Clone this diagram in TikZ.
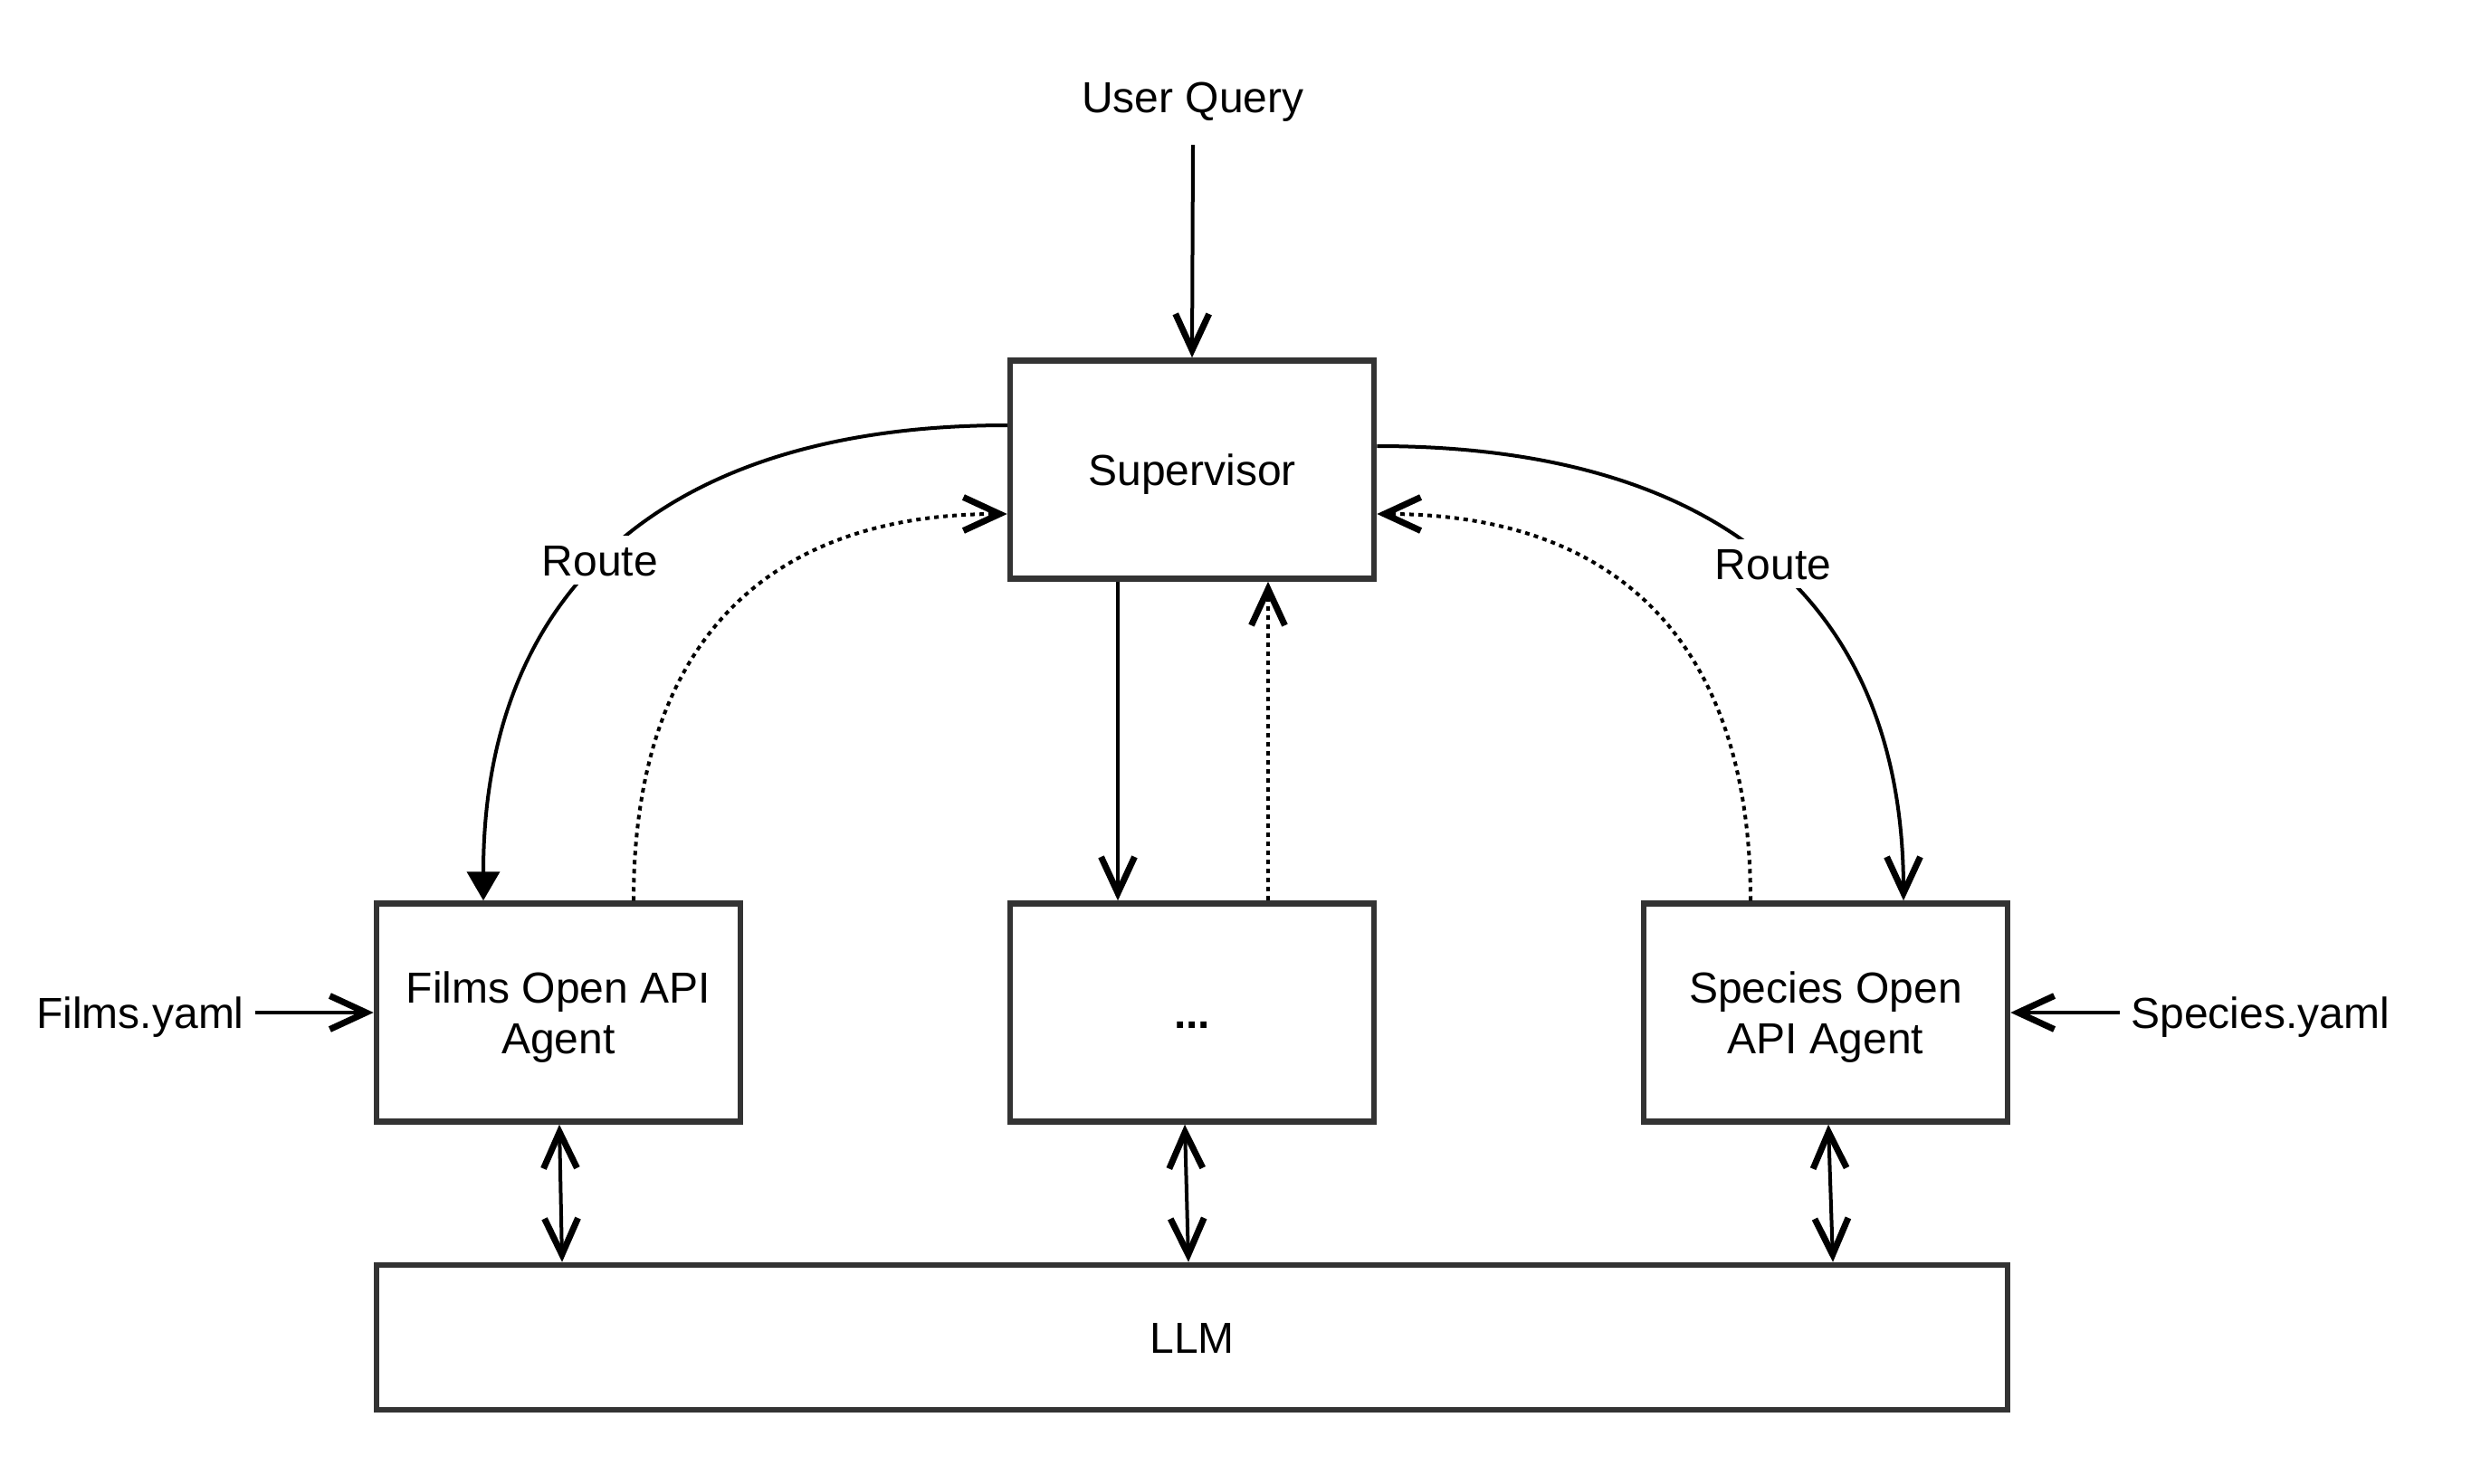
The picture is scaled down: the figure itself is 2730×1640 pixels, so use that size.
\documentclass[tikz,border=0pt]{standalone}
\usepackage{fontspec}
\setmainfont{Liberation Sans}
\usetikzlibrary{arrows.meta}
\definecolor{boxc}{HTML}{333333}
\begin{document}
\begin{tikzpicture}[x=1pt,y=-1pt,
  every node/.style={font=\fontsize{48}{56}\selectfont},
  box/.style={draw=boxc, line width=6.5pt, fill=white, minimum width=402pt, minimum height=241pt, align=center, inner sep=0pt},
  oneline/.style={text height=34pt, text depth=0pt},
  conn/.style={line width=4pt},
  dotc/.style={line width=4pt, dash pattern=on 5pt off 5pt},
  >={Straight Barb[length=40pt,width=37pt,line width=7pt]},
  trih/.style={-{Triangle[length=32pt,width=36pt]}},
  lbl/.style={oneline, fill=white, inner xsep=3pt, inner ysep=10pt},
  yaml/.style={oneline, inner xsep=12pt}
]
\fill[white] (0,0) rectangle (2730,1640);
\useasboundingbox (0,0) rectangle (2730,1640);

% nodes
\node[oneline, inner ysep=35pt] (uq) at (1318,108) {User Query};
\node[box, oneline] (sup) at (1317,519) {Supervisor};
\node[box] (films) at (617,1119) {\rule{0pt}{44pt}Films Open API\\Agent};
\node[box, oneline] (mid) at (1317,1119) {\textbf{...}\vphantom{A}};
\node[box] (species) at (2017,1119) {\rule{0pt}{44pt}Species Open\\API Agent};
\node[box, oneline, minimum width=1802pt, minimum height=160pt] (llm) at (1317,1478) {LLM};
\node[yaml] (fy) at (155,1119) {Films.yaml};
\node[yaml] (sy) at (2497,1119) {Species.yaml};

% user query
\draw[conn,->] (uq.south) -- (sup.north);

% yaml inputs
\draw[conn,->] (fy.east) -- (films.west);
\draw[conn,->] (sy.west) -- (species.east);

% route curves
\draw[conn,trih] ([yshift=49pt]sup.west) .. controls +(-378,0) and +(0,-343) .. ([xshift=-83pt]films.north);
\draw[conn,->] ([yshift=26pt]sup.east) .. controls +(380,0) and +(0,-328) .. ([xshift=86pt]species.north);

% dotted returns
\draw[dotc,->] ([xshift=83pt]films.north) .. controls +(0,-280) and +(-270,0) .. ([yshift=-49pt]sup.west);
\draw[dotc,->] ([xshift=-83pt]species.north) .. controls +(0,-280) and +(270,0) .. ([yshift=-49pt]sup.east);

% middle
\draw[conn,->] ([xshift=-82pt]sup.south) -- ([xshift=-82pt]mid.north);
\draw[dotc,->] ([xshift=84pt]mid.north) -- ([xshift=84pt]sup.south);

% LLM links
\draw[conn,<->] ([xshift=1pt]films.south) -- ([xshift=-696pt]llm.north);
\draw[conn,<->] ([xshift=-8pt]mid.south) -- ([xshift=-4pt]llm.north);
\draw[conn,<->] ([xshift=3pt]species.south) -- ([xshift=708pt]llm.north);

% labels
\node[lbl] (route1) at (663,619) {Route};
\node[lbl] (route2) at (1959,623) {Route};
\end{tikzpicture}
\end{document}
